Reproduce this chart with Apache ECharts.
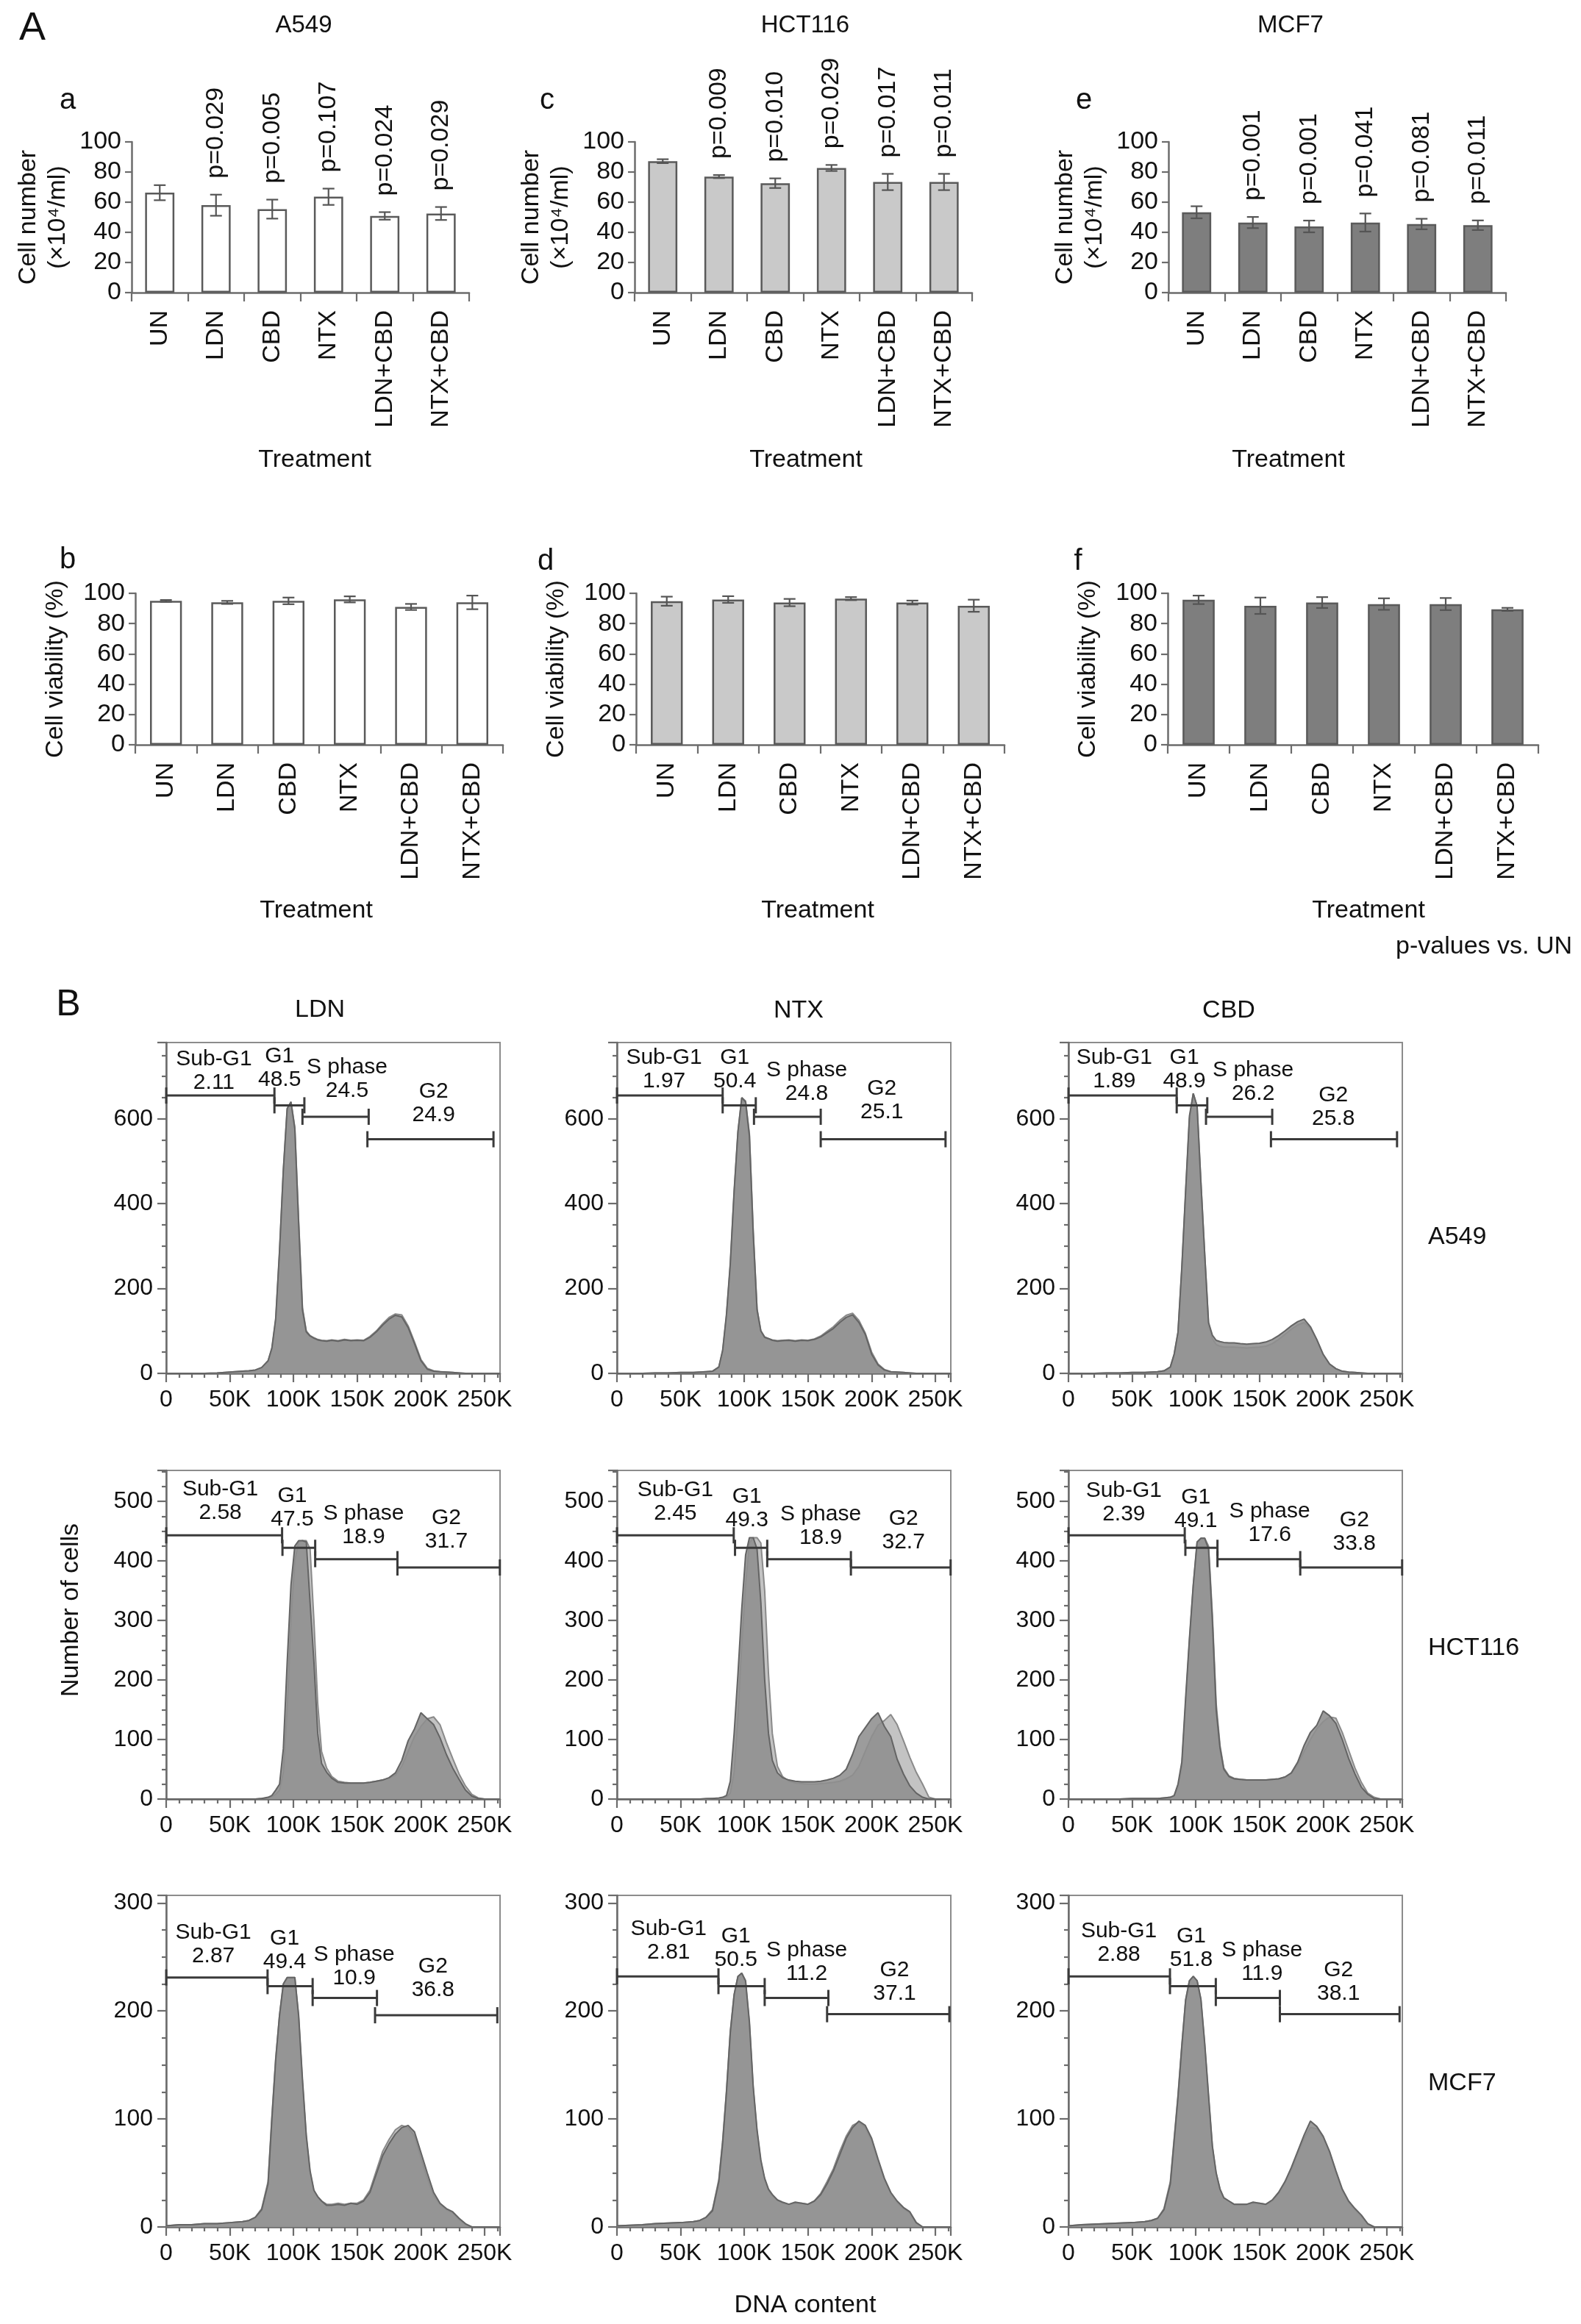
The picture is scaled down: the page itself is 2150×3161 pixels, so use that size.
<!DOCTYPE html>
<html>
<head>
<meta charset="utf-8">
<script src="https://cdn.jsdelivr.net/npm/echarts@6/dist/echarts.min.js"></script>
<style>
  html, body { margin: 0; padding: 0; background: #fff; }
  #chart { width: 2150px; height: 3161px; }
</style>
</head>
<body>
<div id="chart"></div>
<script>
const FONT = '"Liberation Sans", Arial, Helvetica, sans-serif';
const INK = '#111111';
const AXIS = '#6c6c6c';

// ---------- panel A : cell number / viability ----------
const treatments = ['UN', 'LDN', 'CBD', 'NTX', 'LDN+CBD', 'NTX+CBD'];

const a549Count = [66.3, 58, 55.4, 63.6, 50.9, 52.5];
const a549CountErr = [5, 7, 6.3, 5.4, 2.5, 4.3];
const a549CountP = ['', 'p=0.029', 'p=0.005', 'p=0.107', 'p=0.024', 'p=0.029'];

const hct116Count = [87.2, 77, 72.6, 82.7, 73.4, 73.4];
const hct116CountErr = [1.3, 1, 3.2, 2, 5.4, 5.4];
const hct116CountP = ['', 'p=0.009', 'p=0.010', 'p=0.029', 'p=0.017', 'p=0.011'];

const mcf7Count = [53.3, 46.5, 43.9, 46.5, 45.5, 44.7];
const mcf7CountErr = [4, 3.7, 3.9, 6, 3.5, 3.2];
const mcf7CountP = ['', 'p=0.001', 'p=0.001', 'p=0.041', 'p=0.081', 'p=0.011'];

const a549Viab = [95, 94, 95, 96, 91, 94];
const a549ViabErr = [0.6, 1, 2.2, 2, 2, 4.5];
const hct116Viab = [94.8, 95.9, 93.9, 96.5, 93.9, 91.8];
const hct116ViabErr = [3, 2.2, 2.4, 1, 1.3, 4];
const mcf7Viab = [95.7, 91.8, 93.9, 92.9, 92.9, 89.4];
const mcf7ViabErr = [2.8, 5.4, 3.6, 3.8, 4, 1];

// ---------- panel B : DNA content histograms (x in K units) ----------
const dnaK = [0, 10, 20, 30, 40, 50, 60, 65, 70, 75, 80, 83, 86, 89, 92, 95, 98, 101, 104, 107, 110, 113, 116, 119, 122, 126, 130,
  135, 140, 145, 150, 155, 160, 165, 170, 175, 180, 185, 190, 195, 200, 205, 210, 215, 220, 225, 230, 235, 240, 245, 250, 262];
const phaseNames = ['Sub-G1', 'G1', 'S phase', 'G2'];

// A549
const a549LdnDark = [0,0,0,0,1,3,5,6,8,14,30,60,130,290,480,625,640,577,354,150,98,88,83,79,77,76,78,
  76,79,77,78,77,85,98,114,128,137,133,108,70,30,10,5,4,3,2,1,0,0,0,0,0];
const a549LdnLight = [0,0,0,0,1,3,5,6,8,13,28,58,125,285,478,622,640,580,360,155,100,89,84,80,78,77,79,
  77,80,78,79,78,87,100,117,132,140,138,112,74,33,12,6,4,3,2,1,0,0,0,0,0];
const a549NtxDark = [0,0,0,1,1,2,2,3,4,5,15,55,140,260,430,570,650,640,560,330,150,100,85,82,78,76,77,
  78,76,78,77,80,86,96,106,120,132,138,120,92,45,20,8,4,3,2,1,0,0,0,0,0];
const a549NtxLight = [0,0,0,1,1,2,2,3,4,5,15,52,135,255,425,568,650,642,565,335,152,100,86,82,79,77,78,
  79,77,79,78,81,88,99,110,125,137,142,125,95,50,22,9,4,3,2,1,0,0,0,0,0];
const a549CbdDark = [0,0,0,1,1,2,2,3,4,6,15,45,97,250,430,607,660,630,450,280,120,90,78,75,73,72,72,
  70,69,70,71,74,80,89,100,112,122,128,110,80,45,22,11,5,3,2,1,0,0,0,0,0];
const a549CbdLight = [0,0,0,1,1,2,2,3,4,6,15,45,95,245,425,600,660,630,450,280,115,82,68,64,62,62,62,
  61,60,61,62,64,70,80,92,104,114,120,106,78,44,22,11,5,3,2,1,0,0,0,0,0];

// HCT116
const hct116LdnDark = [0,0,0,0,0,0,0,0,0,1,3,6,15,25,85,230,360,425,434,434,432,330,230,110,60,45,35,
  28,27,27,27,27,28,30,32,36,44,65,98,118,145,135,125,103,75,52,33,15,5,1,0,0];
const hct116LdnLight = [0,0,0,0,0,0,0,0,0,1,2,4,8,15,45,150,300,400,432,434,434,420,300,160,80,52,38,
  30,28,27,27,27,28,30,32,35,40,55,80,105,122,135,138,125,95,68,42,22,8,2,0,0];
const hct116NtxDark = [0,0,0,0,0,0,0,0,1,1,2,3,6,30,110,210,320,410,439,439,420,330,200,110,65,44,36,
  32,30,29,29,29,30,32,35,40,50,75,105,120,135,145,122,105,67,42,22,10,3,0,0,0];
const hct116NtxLight = [0,0,0,0,0,0,0,0,0,1,1,2,3,10,45,140,260,360,430,439,439,430,350,210,110,55,38,
  30,27,26,25,25,26,27,28,30,34,40,55,80,105,124,132,142,125,98,70,45,25,3,0,0];
const hct116CbdDark = [0,0,0,0,0,1,1,1,1,2,3,6,25,62,170,270,360,432,438,438,420,300,150,86,50,38,34,
  33,32,32,32,32,33,34,37,44,62,90,112,124,148,140,127,100,68,42,20,8,1,0,0,0];
const hct116CbdLight = [0,0,0,0,0,1,1,1,1,2,3,5,20,55,160,265,358,430,438,438,425,310,160,90,52,39,35,
  33,32,32,32,32,33,34,37,43,58,80,100,118,130,138,136,112,82,52,28,10,3,0,0,0];

// MCF7
const mcf7LdnDark = [1,2,2,3,3,4,5,6,9,16,40,100,155,196,225,231,231,231,196,137,85,52,34,28,24,20,20,
  21,20,22,21,24,32,49,66,77,86,92,94,88,69,50,32,22,17,14,8,3,0,0,0,0];
const mcf7LdnLight = [1,2,2,3,3,4,5,6,9,17,42,102,156,196,225,231,231,231,194,134,83,50,33,28,24,21,21,
  22,21,22,22,25,34,52,70,81,90,94,92,84,64,45,29,21,16,13,7,2,0,0,0,0];
const mcf7NtxDark = [1,1.5,2,3,3.5,4,5,6,9,15,42,78,125,180,215,232,235,228,190,130,90,62,45,35,30,25,23,
  21,23,22,21,24,30,40,52,67,82,92,98,94,82,63,45,32,24,18,14,4,0,0,0,0];
const mcf7NtxLight = [1,1.5,2,3,3.5,4,5,6,9,16,44,80,126,181,215,232,235,226,188,128,88,60,44,34,29,25,22,
  21,22,22,21,24,31,42,54,70,84,94,97,92,80,61,44,31,23,17,13,4,0,0,0,0];
const mcf7CbdDark = [1,2,2.5,3,3.5,4,5,6,8,16,40,80,120,167,210,228,232,228,211,170,122,75,50,35,27,24,21,
  21,21,23,22,21,25,32,42,55,70,85,98,93,84,70,52,35,24,17,11,3,0,0,0,0];
const mcf7CbdLight = [1,2,2.5,3,3.5,4,5,6,8,17,42,82,122,168,210,228,232,228,210,168,120,74,49,35,27,24,21,
  21,21,22,22,21,24,31,41,53,68,82,92,91,83,69,51,34,23,16,10,3,0,0,0,0];

// gates: [from K, to K, level]; gate text anchors: [K, count]; gate percentages
const a549LdnGates = [[0, 85, 655], [85, 108.5, 632], [107, 159, 605], [158, 257, 552]];
const a549LdnGateText = [[37.5, 712], [89, 719], [142, 693], [210, 636]];
const a549LdnPct = ['2.11', '48.5', '24.5', '24.9'];
const a549NtxGates = [[0, 83, 655], [83, 109, 632], [107.6, 160, 605], [160, 258, 552]];
const a549NtxGateText = [[37, 717], [92.5, 717], [149, 686], [208, 644]];
const a549NtxPct = ['1.97', '50.4', '24.8', '25.1'];
const a549CbdGates = [[0, 85, 655], [85, 109, 632], [108, 160, 605], [159, 258, 552]];
const a549CbdGateText = [[36, 717], [91, 717], [145, 686], [208, 628]];
const a549CbdPct = ['1.89', '48.9', '26.2', '25.8'];

const hct116LdnGates = [[0, 91, 443], [91.3, 117, 422], [117, 181.6, 403], [181.6, 262, 389]];
const hct116LdnGateText = [[42.5, 501], [99, 489], [155, 460], [220, 452]];
const hct116LdnPct = ['2.58', '47.5', '18.9', '31.7'];
const hct116NtxGates = [[0, 91.7, 443], [92.7, 118, 422], [118, 183.7, 403], [183.7, 262, 389]];
const hct116NtxGateText = [[45.8, 499], [102, 488], [160, 458], [225, 451]];
const hct116NtxPct = ['2.45', '49.3', '18.9', '32.7'];
const hct116CbdGates = [[0, 91.3, 443], [91.8, 117, 422], [117, 182, 403], [182, 262, 389]];
const hct116CbdGateText = [[43.5, 498], [100, 487], [158, 463], [224.5, 448]];
const hct116CbdPct = ['2.39', '49.1', '17.6', '33.8'];

const mcf7LdnGates = [[0, 79.6, 231], [79.6, 115, 223], [115, 165.5, 212], [164, 260, 196]];
const mcf7LdnGateText = [[37, 261.5], [93, 256], [147.6, 241], [209.5, 230]];
const mcf7LdnPct = ['2.87', '49.4', '10.9', '36.8'];
const mcf7NtxGates = [[0, 79.7, 232], [79.7, 116, 223], [116, 166, 212], [165, 261, 197]];
const mcf7NtxGateText = [[40.6, 265], [93.4, 258], [149, 245], [218, 227]];
const mcf7NtxPct = ['2.81', '50.5', '11.2', '37.1'];
const mcf7CbdGates = [[0, 79.7, 232], [79.7, 115.7, 223], [115.7, 166, 212], [166, 260, 197]];
const mcf7CbdGateText = [[39.6, 263], [96.4, 258], [152, 245], [212, 227]];
const mcf7CbdPct = ['2.88', '51.8', '11.9', '38.1'];

// ---------- build ----------
const chart = echarts.init(document.getElementById('chart'));
const grid = [], xAxis = [], yAxis = [], series = [];

const axisLine = { show: true, onZero: false, lineStyle: { color: AXIS, width: 2.5 } };
const tickStyle = { color: AXIS, width: 2.2 };

function renderErr(params, api) {
  const lo = api.coord([api.value(0), api.value(1)]);
  const hi = api.coord([api.value(0), api.value(2)]);
  const st = { stroke: '#555', lineWidth: 2.2 };
  return {
    type: 'group',
    children: [
      { type: 'line', shape: { x1: lo[0], y1: lo[1], x2: hi[0], y2: hi[1] }, style: st },
      { type: 'line', shape: { x1: lo[0] - 8, y1: lo[1], x2: lo[0] + 8, y2: lo[1] }, style: st },
      { type: 'line', shape: { x1: hi[0] - 8, y1: hi[1], x2: hi[0] + 8, y2: hi[1] }, style: st }
    ]
  };
}

function barPanel(box, mean, err, pLabels, fill, yName, nameGap) {
  const gi = grid.length;
  grid.push({ left: box[0], top: box[1], width: box[2], height: box[3], containLabel: false, outerBoundsMode: 'none' });
  const pxPerUnit = box[3] / 100;
  xAxis.push({
    type: 'category', gridIndex: gi, data: treatments,
    axisLine: axisLine,
    axisTick: { show: true, length: 12, lineStyle: tickStyle },
    axisLabel: { rotate: 90, interval: 0, margin: 24, fontSize: 34, color: INK, fontFamily: FONT, hideOverlap: false }
  });
  yAxis.push({
    type: 'value', gridIndex: gi, min: 0, max: 100, interval: 20,
    axisLine: axisLine,
    axisTick: { show: true, length: 9, lineStyle: tickStyle },
    splitLine: { show: false },
    axisLabel: { margin: 14, fontSize: 34, color: INK, fontFamily: FONT },
    name: yName, nameLocation: 'middle', nameRotate: 90, nameGap: nameGap,
    nameTextStyle: { fontSize: 34, lineHeight: 40, color: INK, fontFamily: FONT }
  });
  series.push({
    type: 'bar', xAxisIndex: gi, yAxisIndex: gi, barWidth: '52%', silent: true,
    data: mean.map((v, j) => ({ value: v, label: { distance: err[j] * pxPerUnit + 22 } })),
    itemStyle: { color: fill, borderColor: '#5a5a5a', borderWidth: 2.5 },
    label: {
      show: !!pLabels, position: 'top', rotate: 90, align: 'left', verticalAlign: 'middle',
      formatter: (p) => (pLabels ? pLabels[p.dataIndex] : ''),
      fontSize: 34, color: INK, fontFamily: FONT
    }
  });
  series.push({
    type: 'custom', xAxisIndex: gi, yAxisIndex: gi, silent: true, z: 5,
    data: mean.map((v, j) => [j, v - err[j], v + err[j]]),
    encode: { x: 0, y: [1, 2] },
    renderItem: renderErr
  });
}

barPanel([179, 193, 459, 205], a549Count, a549CountErr, a549CountP, '#ffffff', 'Cell number\n(×10⁴/ml)', 80);
barPanel([863, 193, 459, 205], hct116Count, hct116CountErr, hct116CountP, '#c9c9c9', 'Cell number\n(×10⁴/ml)', 80);
barPanel([1589, 193, 459, 205], mcf7Count, mcf7CountErr, mcf7CountP, '#7e7e7e', 'Cell number\n(×10⁴/ml)', 80);
barPanel([184, 807, 500, 206], a549Viab, a549ViabErr, null, '#ffffff', 'Cell viability (%)', 88);
barPanel([865, 807, 501, 206], hct116Viab, hct116ViabErr, null, '#c9c9c9', 'Cell viability (%)', 88);
barPanel([1588, 807, 504, 206], mcf7Viab, mcf7ViabErr, null, '#7e7e7e', 'Cell viability (%)', 88);

function gateRenderer(pct) {
  return function (params, api) {
    const a = api.coord([api.value(0), api.value(2)]);
    const b = api.coord([api.value(1), api.value(2)]);
    const t = api.coord([api.value(3), api.value(4)]);
    const j = params.dataIndex;
    const st = { stroke: '#3a3a3a', lineWidth: 3 };
    return {
      type: 'group',
      children: [
        { type: 'line', shape: { x1: a[0], y1: a[1], x2: b[0], y2: b[1] }, style: st },
        { type: 'line', shape: { x1: a[0], y1: a[1] - 11, x2: a[0], y2: a[1] + 11 }, style: st },
        { type: 'line', shape: { x1: b[0], y1: b[1] - 11, x2: b[0], y2: b[1] + 11 }, style: st },
        {
          type: 'text',
          style: {
            x: t[0], y: t[1], text: phaseNames[j] + '\n' + pct[j], fill: INK,
            font: '30px ' + FONT, lineHeight: 32,
            align: 'center', verticalAlign: 'middle', textAlign: 'center', textVerticalAlign: 'middle'
          }
        }
      ]
    };
  };
}

const histRows = [
  { top: 1418, height: 450, yMax: 780, yStep: 200 },
  { top: 2000, height: 447, yMax: 552, yStep: 100 },
  { top: 2578, height: 451, yMax: 307, yStep: 100 }
];
const histCols = [226, 839, 1453];
const hists = [
  [a549LdnDark, a549LdnLight, a549LdnGates, a549LdnGateText, a549LdnPct],
  [a549NtxDark, a549NtxLight, a549NtxGates, a549NtxGateText, a549NtxPct],
  [a549CbdDark, a549CbdLight, a549CbdGates, a549CbdGateText, a549CbdPct],
  [hct116LdnDark, hct116LdnLight, hct116LdnGates, hct116LdnGateText, hct116LdnPct],
  [hct116NtxDark, hct116NtxLight, hct116NtxGates, hct116NtxGateText, hct116NtxPct],
  [hct116CbdDark, hct116CbdLight, hct116CbdGates, hct116CbdGateText, hct116CbdPct],
  [mcf7LdnDark, mcf7LdnLight, mcf7LdnGates, mcf7LdnGateText, mcf7LdnPct],
  [mcf7NtxDark, mcf7NtxLight, mcf7NtxGates, mcf7NtxGateText, mcf7NtxPct],
  [mcf7CbdDark, mcf7CbdLight, mcf7CbdGates, mcf7CbdGateText, mcf7CbdPct]
];

hists.forEach((h, k) => {
  const row = histRows[Math.floor(k / 3)];
  const gi = grid.length;
  grid.push({
    left: histCols[k % 3], top: row.top, width: 454, height: row.height,
    show: true, borderColor: '#8c8c8c', borderWidth: 2, backgroundColor: 'transparent',
    containLabel: false, outerBoundsMode: 'none'
  });
  xAxis.push({
    type: 'value', gridIndex: gi, min: 0, max: 262.144, interval: 50,
    axisLine: axisLine,
    axisTick: { show: true, length: 12, lineStyle: tickStyle },
    minorTick: { show: true, splitNumber: 5, length: 6, lineStyle: tickStyle },
    splitLine: { show: false },
    axisLabel: {
      margin: 20, fontSize: 32, color: INK, fontFamily: FONT, showMaxLabel: false,
      formatter: (v) => (v === 0 ? '0' : v + 'K')
    }
  });
  yAxis.push({
    type: 'value', gridIndex: gi, min: 0, max: row.yMax, interval: row.yStep,
    axisLine: axisLine,
    axisTick: { show: true, length: 12, lineStyle: tickStyle },
    minorTick: { show: true, splitNumber: 4, length: 6, lineStyle: tickStyle },
    splitLine: { show: false },
    axisLabel: { margin: 18, fontSize: 32, color: INK, fontFamily: FONT, showMaxLabel: false }
  });
  series.push({
    type: 'line', xAxisIndex: gi, yAxisIndex: gi, silent: true, z: 2,
    data: dnaK.map((x, i) => [x, h[1][i]]), symbol: 'none',
    lineStyle: { color: '#8a8a8a', width: 2 },
    areaStyle: { color: '#c3c3c3', opacity: 1 }
  });
  series.push({
    type: 'line', xAxisIndex: gi, yAxisIndex: gi, silent: true, z: 3,
    data: dnaK.map((x, i) => [x, h[0][i]]), symbol: 'none',
    lineStyle: { color: '#646464', width: 2 },
    areaStyle: { color: '#8e8e8e', opacity: 0.88 }
  });
  series.push({
    type: 'custom', xAxisIndex: gi, yAxisIndex: gi, silent: true, z: 6,
    data: h[2].map((g, j) => [g[0], g[1], g[2], h[3][j][0], h[3][j][1]]),
    encode: { x: [0, 1, 3], y: [2, 4] },
    renderItem: gateRenderer(h[4])
  });
});

// free-standing texts: [text, x, y, size, align, rotation]
const texts = [
  ['A', 44, 39, 54], ['B', 93, 1367, 50],
  ['A549', 413, 35, 33], ['HCT116', 1095, 35, 33], ['MCF7', 1755, 35, 33],
  ['a', 92, 137, 40], ['c', 744, 137, 40], ['e', 1474, 137, 40],
  ['b', 92, 762, 40], ['d', 742, 764, 40], ['f', 1466, 764, 40],
  ['Treatment', 428, 626, 34], ['Treatment', 1096, 626, 34], ['Treatment', 1752, 626, 34],
  ['Treatment', 430, 1239, 34], ['Treatment', 1112, 1239, 34], ['Treatment', 1861, 1239, 34],
  ['p-values vs. UN', 2138, 1288, 34, 'right'],
  ['LDN', 435, 1374, 34], ['NTX', 1086, 1375, 34], ['CBD', 1671, 1375, 34],
  ['A549', 1942, 1683, 34, 'left'], ['HCT116', 1942, 2242, 34, 'left'], ['MCF7', 1942, 2834, 34, 'left'],
  ['Number of cells', 97, 2190, 34, 'center', Math.PI / 2],
  ['DNA content', 1095, 3136, 34]
];

const option = {
  animation: false,
  backgroundColor: '#ffffff',
  grid: grid,
  xAxis: xAxis,
  yAxis: yAxis,
  series: series,
  graphic: texts.map((t) => ({
    type: 'text', x: t[1], y: t[2], rotation: t[5] || 0, silent: true,
    style: {
      text: t[0], fill: INK, font: t[3] + 'px ' + FONT,
      align: t[4] || 'center', verticalAlign: 'middle',
      textAlign: t[4] || 'center', textVerticalAlign: 'middle'
    }
  }))
};
chart.setOption(option);
</script>
</body>
</html>
